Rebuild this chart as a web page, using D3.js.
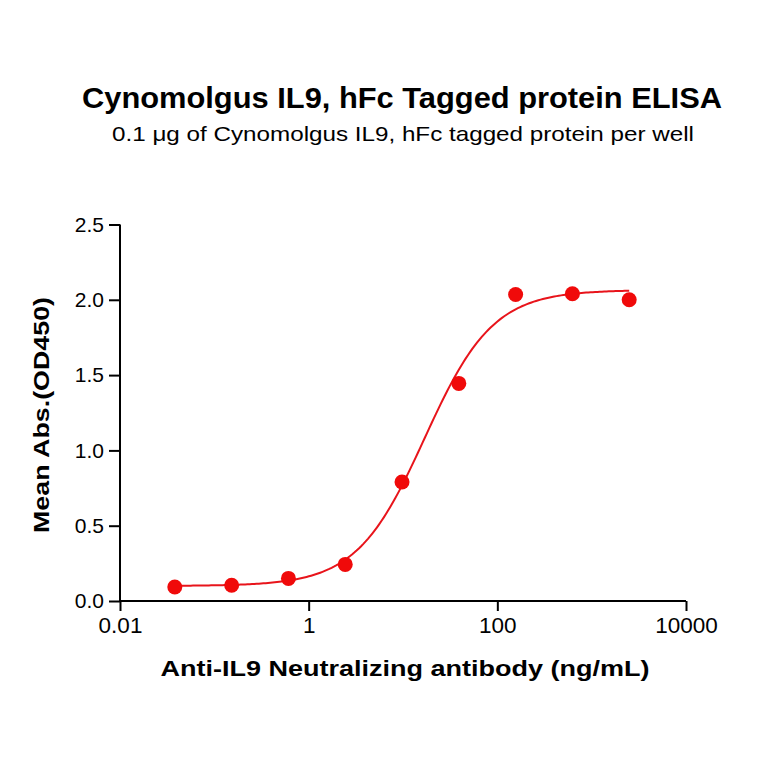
<!DOCTYPE html>
<html><head><meta charset="utf-8">
<script src="https://cdn.jsdelivr.net/npm/d3@7"></script>
<style>body{margin:0;background:#fff}text{font-family:"Liberation Sans",Arial,sans-serif}</style>
</head><body><svg id="c" width="764" height="764"></svg>
<script>
const concentrations = [0.0381, 0.1526, 0.6104, 2.441, 9.766, 39.06, 156.25, 625, 2500];
const absorbance = [0.093, 0.105, 0.15, 0.243, 0.79, 1.445, 2.035, 2.04, 2.0];
// 4PL fit parameters: bottom, top, EC50, hill
const fitParams = [0.1, 2.065, 17, 1.2];
const xTicks = [0.01, 1, 100, 10000];
const xTickLabels = ["0.01", "1", "100", "10000"];
const yTicks = [0, 0.5, 1.0, 1.5, 2.0, 2.5];
const title = "Cynomolgus IL9, hFc Tagged protein ELISA";
const subtitle = "0.1 \u03bcg of Cynomolgus IL9, hFc tagged protein per well";
const xLabel = "Anti-IL9 Neutralizing antibody (ng/mL)";
const yLabel = "Mean Abs.(OD450)";

const svg = d3.select("#c");
const x = d3.scaleLog().domain([0.01, 10000]).range([120, 686]);
const y = d3.scaleLinear().domain([0, 2.5]).range([601, 224.5]);

svg.append("text").attr("x", 402).attr("y", 107.5).attr("text-anchor", "middle")
  .attr("font-size", 29).attr("font-weight", "bold")
  .attr("textLength", 640).attr("lengthAdjust", "spacingAndGlyphs").text(title);
svg.append("text").attr("x", 403).attr("y", 141).attr("text-anchor", "middle")
  .attr("font-size", 21).attr("textLength", 582).attr("lengthAdjust", "spacingAndGlyphs").text(subtitle);

const xAxis = svg.append("g").attr("transform", "translate(0,601)")
  .call(d3.axisBottom(x).tickValues(xTicks).tickFormat((d,i)=>xTickLabels[i]).tickSize(10).tickPadding(6));
const yAxis = svg.append("g").attr("transform", "translate(120,0)")
  .call(d3.axisLeft(y).tickValues(yTicks).tickFormat(d3.format(".1f")).tickSize(11).tickPadding(5));
[xAxis, yAxis].forEach(a => {
  a.selectAll("path").attr("stroke", "#000").attr("stroke-width", 2);
  a.selectAll("line").attr("stroke", "#000").attr("stroke-width", 2);
  a.selectAll("text").attr("fill", "#000")
    .style("font-family", '"Liberation Sans",Arial,sans-serif');
});
xAxis.selectAll("text").attr("font-size", 22.5);
yAxis.selectAll("text").attr("font-size", 21);
yAxis.selectAll("path").attr("d", "M0,224.5V601");
xAxis.selectAll("path").attr("d", "M120,0H686");

svg.append("text").attr("x", 405).attr("y", 676).attr("text-anchor", "middle")
  .attr("font-size", 22.5).attr("font-weight", "bold")
  .attr("textLength", 489).attr("lengthAdjust", "spacingAndGlyphs").text(xLabel);
svg.append("text").attr("transform", "translate(48.5,415) rotate(-90)").attr("text-anchor", "middle")
  .attr("font-size", 22.5).attr("font-weight", "bold")
  .attr("textLength", 236).attr("lengthAdjust", "spacingAndGlyphs").text(yLabel);

const [fitBottom, fitTop, fitEc50, fitHill] = fitParams;
const f = c => fitBottom + (fitTop - fitBottom) / (1 + Math.pow(fitEc50 / c, fitHill));
const lo = Math.log10(concentrations[0]), hi = Math.log10(concentrations[concentrations.length-1]);
const curve = d3.range(0, 201).map(i => { const c = Math.pow(10, lo + (hi-lo)*i/200); return [c, f(c)]; });
svg.append("path").datum(curve)
  .attr("d", d3.line().x(d => x(d[0])).y(d => y(d[1])))
  .attr("fill", "none").attr("stroke", "#e8141b").attr("stroke-width", 2);

svg.selectAll("circle.pt").data(concentrations).enter().append("circle")
  .attr("cx", d => x(d)).attr("cy", (d,i) => y(absorbance[i])).attr("r", 7.5)
  .attr("fill", "#f00a0a");
</script></body></html>
